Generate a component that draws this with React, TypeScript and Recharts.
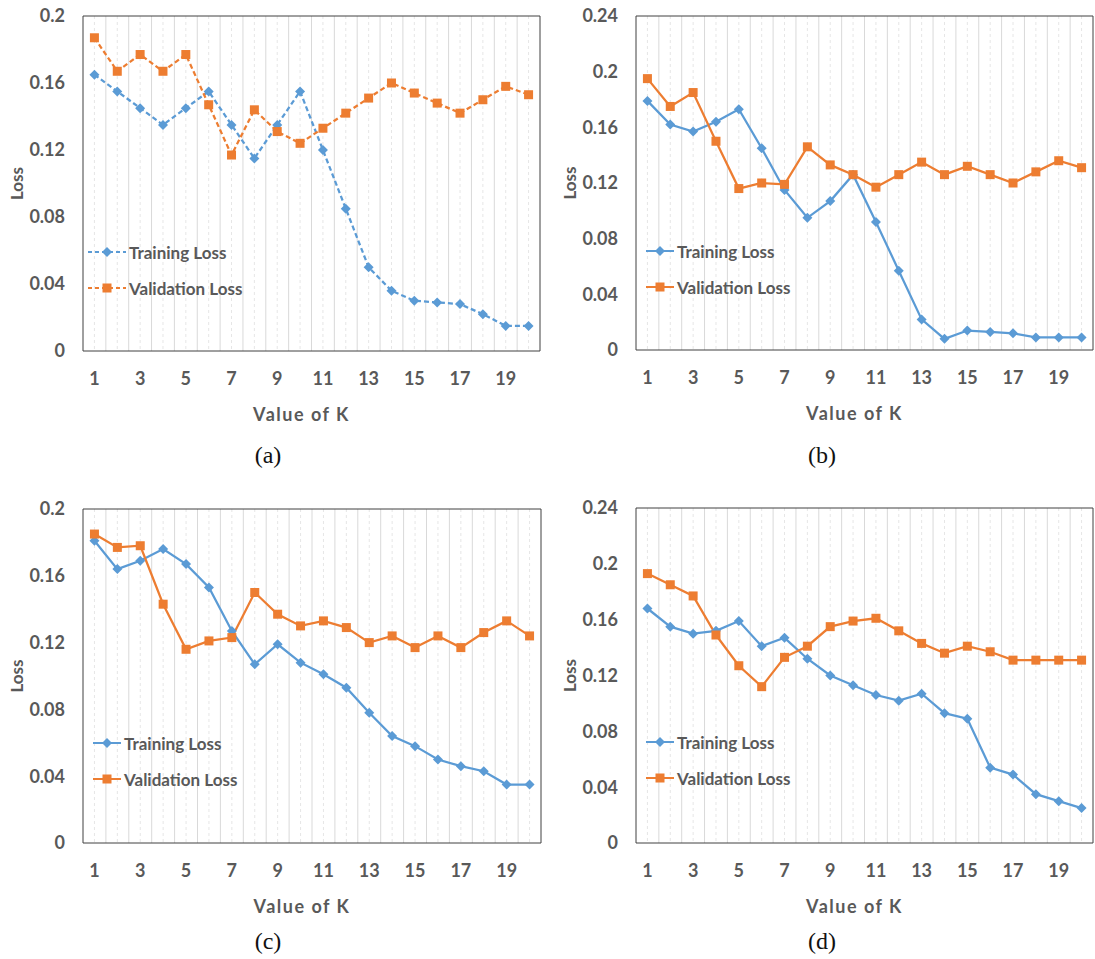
import React from "react";
import { LineChart, Line, XAxis, YAxis, CartesianGrid, Legend } from "recharts";

// K values on the x axis
const kValues = [1, 2, 3, 4, 5, 6, 7, 8, 9, 10, 11, 12, 13, 14, 15, 16, 17, 18, 19, 20];

// (a)
const trainA = [0.165, 0.155, 0.145, 0.135, 0.145, 0.155, 0.135, 0.115, 0.135, 0.155, 0.12, 0.085, 0.05, 0.036, 0.03, 0.029, 0.028, 0.022, 0.015, 0.015];
const valA = [0.187, 0.167, 0.177, 0.167, 0.177, 0.147, 0.117, 0.144, 0.131, 0.124, 0.133, 0.142, 0.151, 0.16, 0.154, 0.148, 0.142, 0.15, 0.158, 0.153];
// (b)
const trainB = [0.179, 0.162, 0.157, 0.164, 0.173, 0.145, 0.115, 0.095, 0.107, 0.126, 0.092, 0.057, 0.022, 0.008, 0.014, 0.013, 0.012, 0.009, 0.009, 0.009];
const valB = [0.195, 0.175, 0.185, 0.15, 0.116, 0.12, 0.119, 0.146, 0.133, 0.126, 0.117, 0.126, 0.135, 0.126, 0.132, 0.126, 0.12, 0.128, 0.136, 0.131];
// (c)
const trainC = [0.181, 0.164, 0.169, 0.176, 0.167, 0.153, 0.127, 0.107, 0.119, 0.108, 0.101, 0.093, 0.078, 0.064, 0.058, 0.05, 0.046, 0.043, 0.035, 0.035];
const valC = [0.185, 0.177, 0.178, 0.143, 0.116, 0.121, 0.123, 0.15, 0.137, 0.13, 0.133, 0.129, 0.12, 0.124, 0.117, 0.124, 0.117, 0.126, 0.133, 0.124];
// (d)
const trainD = [0.168, 0.155, 0.15, 0.152, 0.159, 0.141, 0.147, 0.132, 0.12, 0.113, 0.106, 0.102, 0.107, 0.093, 0.089, 0.054, 0.049, 0.035, 0.03, 0.025];
const valD = [0.193, 0.185, 0.177, 0.149, 0.127, 0.112, 0.133, 0.141, 0.155, 0.159, 0.161, 0.152, 0.143, 0.136, 0.141, 0.137, 0.131, 0.131, 0.131, 0.131];

const ticks020 = [0, 0.04, 0.08, 0.12, 0.16, 0.2];
const ticks024 = [0, 0.04, 0.08, 0.12, 0.16, 0.2, 0.24];

const BLUE = "#5B9BD5";
const ORANGE = "#ED7D31";
const GRAY = "#595959";
const FONT = "Lato, 'Open Sans', sans-serif";

const makeRows = (train: number[], val: number[]) =>
  kValues.map((k, i) => ({ k, train: train[i], val: val[i] }));

const diamond = (color: string) => (props: any) => {
  const { cx, cy, index } = props;
  if (cx == null || cy == null) return <g key={index} />;
  return (
    <path
      key={index}
      d={`M${cx},${cy - 5}L${cx + 5},${cy}L${cx},${cy + 5}L${cx - 5},${cy}Z`}
      fill={color}
    />
  );
};

const square = (color: string) => (props: any) => {
  const { cx, cy, index } = props;
  if (cx == null || cy == null) return <g key={index} />;
  return <rect key={index} x={cx - 4.5} y={cy - 4.5} width={9} height={9} fill={color} />;
};

// grid helpers: solid lines between categories, dashed at category centres
const boundaries = ({ offset }: any) => {
  const bw = offset.width / kValues.length;
  return kValues.slice(1).map((_, i) => offset.left + (i + 1) * bw);
};
const centres = ({ offset }: any) => {
  const bw = offset.width / kValues.length;
  return kValues.map((_, i) => offset.left + (i + 0.5) * bw);
};
const frameX = ({ offset }: any) => [offset.left, offset.left + offset.width];
const frameY = ({ offset }: any) => [offset.top, offset.top + offset.height];

function LegendBox({ payload, dashed }: any) {
  const len = dashed ? 38 : 28;
  return (
    <div style={{ display: "flex", flexDirection: "column" }}>
      {(payload || []).map((p: any, i: number) => (
        <div key={i} style={{ display: "flex", alignItems: "center", height: 36 }}>
          <svg width={len} height={12} style={{ display: "block" }}>
            <line
              x1={0}
              x2={len}
              y1={6}
              y2={6}
              stroke={p.color}
              strokeWidth={2}
              strokeDasharray={dashed ? "4 3" : undefined}
            />
            {i === 0 ? (
              <path d={`M${len / 2},1L${len / 2 + 5},6L${len / 2},11L${len / 2 - 5},6Z`} fill={p.color} />
            ) : (
              <rect x={len / 2 - 4.5} y={1.5} width={9} height={9} fill={p.color} />
            )}
          </svg>
          <span
            style={{
              marginLeft: 3,
              fontFamily: FONT,
              fontWeight: 700,
              fontSize: 17,
              color: GRAY,
              whiteSpace: "nowrap",
            }}
          >
            {p.value}
          </span>
        </div>
      ))}
    </div>
  );
}

const YTitle = (props: any) => {
  const { viewBox } = props;
  const x = viewBox.x + viewBox.width - 67;
  const y = viewBox.y + viewBox.height / 2;
  return (
    <text
      x={x}
      y={y}
      transform={`rotate(-90 ${x} ${y})`}
      textAnchor="middle"
      dominantBaseline="central"
      fill={GRAY}
      fontFamily={FONT}
      fontWeight={700}
      fontSize={17}
    >
      Loss
    </text>
  );
};

const XTitle = (props: any) => {
  const { viewBox } = props;
  return (
    <text
      x={viewBox.x + viewBox.width / 2 - 10}
      y={viewBox.y + 63}
      textAnchor="middle"
      dominantBaseline="central"
      fill={GRAY}
      fontFamily={FONT}
      fontWeight={700}
      fontSize={18}
      letterSpacing={1.5}
    >
      Value of K
    </text>
  );
};

interface PanelProps {
  train: number[];
  val: number[];
  ticks: number[];
  dashed?: boolean;
  left: number;
  top: number;
  width: number;
  height: number;
  marginTop: number;
  marginRight: number;
  yWidth: number;
  legendLeft: number;
  legendTop: number;
}

function Panel(p: PanelProps) {
  const data = makeRows(p.train, p.val);
  const dash = p.dashed ? "5 3" : undefined;
  return (
    <div style={{ position: "absolute", left: p.left, top: p.top }}>
      <LineChart
        width={p.width}
        height={p.height}
        data={data}
        margin={{ top: p.marginTop, right: p.marginRight, left: 0, bottom: 0 }}
      >
        <CartesianGrid horizontal={false} verticalCoordinatesGenerator={centres} stroke="#e6e6e6" strokeDasharray="3 3" />
        <CartesianGrid horizontal={false} verticalCoordinatesGenerator={boundaries} stroke="#d9d9d9" />
        <CartesianGrid
          verticalCoordinatesGenerator={frameX}
          horizontalCoordinatesGenerator={frameY}
          stroke="#404040"
        />
        <XAxis
          dataKey="k"
          type="category"
          scale="band"
          interval={1}
          height={79}
          tickLine={false}
          axisLine={false}
          tickSize={0}
          tickMargin={21}
          tick={{ fill: GRAY, fontFamily: FONT, fontWeight: 700, fontSize: 18 }}
          label={<XTitle />}
        />
        <YAxis
          domain={[0, p.ticks[p.ticks.length - 1]]}
          ticks={p.ticks}
          width={p.yWidth}
          tickLine={false}
          axisLine={false}
          tickSize={0}
          tickMargin={18}
          tick={{ fill: GRAY, fontFamily: FONT, fontWeight: 700, fontSize: 18 }}
          label={<YTitle />}
        />
        <Legend
          layout="vertical"
          align="center"
          verticalAlign="middle"
          content={<LegendBox dashed={p.dashed} />}
          wrapperStyle={{ left: p.legendLeft, top: p.legendTop, width: 220 }}
        />
        <Line
          dataKey="train"
          name="Training Loss"
          stroke={BLUE}
          strokeWidth={2.25}
          strokeDasharray={dash}
          dot={diamond(BLUE)}
          activeDot={false}
          isAnimationActive={false}
        />
        <Line
          dataKey="val"
          name="Validation Loss"
          stroke={ORANGE}
          strokeWidth={2.25}
          strokeDasharray={dash}
          dot={square(ORANGE)}
          activeDot={false}
          isAnimationActive={false}
        />
      </LineChart>
    </div>
  );
}

const captionStyle = (cx: number, cy: number): React.CSSProperties => ({
  position: "absolute",
  left: cx - 50,
  top: cy - 14,
  width: 100,
  height: 28,
  lineHeight: "28px",
  textAlign: "center",
  fontFamily: "'Liberation Serif', serif",
  fontSize: 24,
  color: "#111",
});

export default function App() {
  return (
    <div style={{ position: "absolute", left: 0, top: 0, width: 1095, height: 959, background: "#fff" }}>
      <Panel train={trainA} val={valA} ticks={ticks020} dashed left={0} top={0} width={548} height={430}
        marginTop={16} marginRight={8} yWidth={83} legendLeft={88} legendTop={234} />
      <Panel train={trainB} val={valB} ticks={ticks024} left={548} top={0} width={547} height={429}
        marginTop={16} marginRight={2} yWidth={88} legendLeft={98} legendTop={233} />
      <Panel train={trainC} val={valC} ticks={ticks020} left={0} top={490} width={548} height={432}
        marginTop={19} marginRight={7} yWidth={83} legendLeft={93} legendTop={235} />
      <Panel train={trainD} val={valD} ticks={ticks024} left={548} top={490} width={547} height={432}
        marginTop={18} marginRight={2} yWidth={88} legendLeft={98} legendTop={234} />
      <div style={captionStyle(268, 455)}>(a)</div>
      <div style={captionStyle(822, 455)}>(b)</div>
      <div style={captionStyle(268, 941)}>(c)</div>
      <div style={captionStyle(822, 941)}>(d)</div>
    </div>
  );
}
